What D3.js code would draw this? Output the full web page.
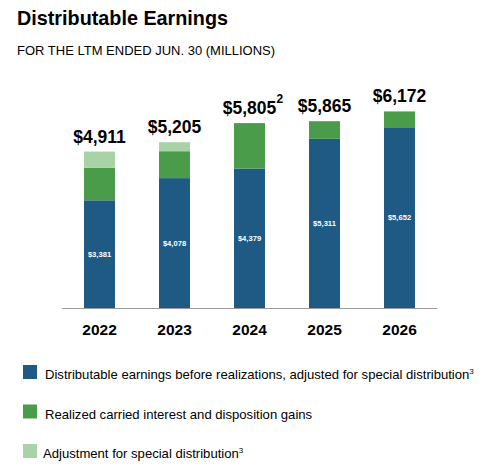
<!DOCTYPE html>
<html><head><meta charset="utf-8">
<script src="https://cdn.jsdelivr.net/npm/d3@7"></script>
<style>body{margin:0;background:#fff;} svg{display:block;font-family:"Liberation Sans",Arial,sans-serif;}</style>
</head><body>
<svg id="c" width="491" height="471"></svg>
<script>
const years = ["2022","2023","2024","2025","2026"];
const baseEarnings = [3381, 4078, 4379, 5311, 5652];
const realizedGains = [1020, 845, 1426, 554, 520];
const specialAdj = [510, 282, 0, 0, 0];
const totals = ["$4,911","$5,205","$5,805","$5,865","$6,172"];
const totalNotes = ["","","2","",""];
const baseLabels = ["$3,381","$4,078","$4,379","$5,311","$5,652"];
const seriesNames = ["Distributable earnings before realizations, adjusted for special distribution","Realized carried interest and disposition gains","Adjustment for special distribution"];
const seriesNotes = ["3","","3"];
const colors = ["#1f5a85","#4a9c4b","#a9d2a6"];

const svg = d3.select("#c");
svg.append("text").attr("x",17).attr("y",25).attr("font-size",19.8).attr("font-weight","bold").attr("fill","#000").text("Distributable Earnings");
svg.append("text").attr("x",17).attr("y",55).attr("font-size",13).attr("fill","#000").text("FOR THE LTM ENDED JUN. 30 (MILLIONS)");

const x = d3.scaleBand().domain(years).range([62,437]).paddingInner(0.587).paddingOuter(0.2935);
const y = d3.scaleLinear().domain([0,7000]).range([308,85.05]);

const rows = years.map((yr,i)=>({year:yr,base:baseEarnings[i],gain:realizedGains[i],adj:specialAdj[i]}));
const stack = d3.stack().keys(["base","gain","adj"])(rows);

svg.append("g").selectAll("g").data(stack).join("g").attr("fill",(d,i)=>colors[i])
  .selectAll("rect").data(d=>d).join("rect")
  .attr("x",d=>x(d.data.year)).attr("width",x.bandwidth())
  .attr("y",d=>y(d[1])).attr("height",d=>y(d[0])-y(d[1]));

// axis
const ax = svg.append("g").attr("transform","translate(0,308)").call(d3.axisBottom(x).tickSize(0).tickPadding(0));
ax.select(".domain").attr("stroke","#999").attr("stroke-width",1.2).attr("d","M62,0.5H437");
ax.selectAll("text").attr("y",27).attr("dy",0).attr("font-size",15.5).attr("font-weight","bold").attr("fill","#000").attr("font-family","Liberation Sans, Arial, sans-serif");

// inner labels
svg.append("g").selectAll("text").data(rows).join("text")
  .attr("x",d=>x(d.year)+x.bandwidth()/2).attr("y",d=>(y(0)+y(d.base))/2+2.5)
  .attr("text-anchor","middle").attr("font-size",7.6).attr("font-weight","bold").attr("fill","#fff")
  .text((d,i)=>baseLabels[i]);

// total labels
svg.append("g").selectAll("text").data(rows).join("text")
  .attr("x",d=>x(d.year)+x.bandwidth()/2).attr("y",d=>y(d.base+d.gain+d.adj)-9)
  .attr("text-anchor","middle").attr("font-size",17.5).attr("font-weight","bold").attr("fill","#000")
  .text((d,i)=>totals[i]);
svg.append("g").selectAll("text").data(rows.filter((d,i)=>totalNotes[i])).join("text")
  .attr("x",d=>x(d.year)+x.bandwidth()/2+27).attr("y",d=>y(d.base+d.gain+d.adj)-20)
  .attr("font-size",12).attr("font-weight","bold").attr("fill","#000")
  .text(d=>totalNotes[years.indexOf(d.year)]);

// legend
const lg = svg.append("g").selectAll("g").data(seriesNames).join("g")
  .attr("transform",(d,i)=>`translate(23,${365+i*39.5})`);
lg.append("rect").attr("width",14).attr("height",14).attr("fill",(d,i)=>colors[i]);
const lt = lg.append("text").attr("x",(d,i)=>i===2?20:22).attr("y",14).attr("font-size",13.1).attr("fill","#000");
lt.append("tspan").text(d=>d);
lt.append("tspan").attr("font-size",8).attr("dy",-5).text((d,i)=>seriesNotes[i]);
</script>
</body></html>
